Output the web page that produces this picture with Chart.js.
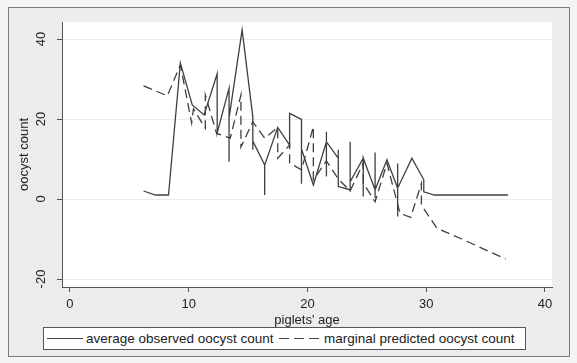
<html><head><meta charset="UTF-8"/>
<title>oocyst count</title>
<script src="https://cdn.jsdelivr.net/npm/chart.js"></script>
<style>
* { margin: 0; padding: 0; box-sizing: border-box; }
body { background: #f4f4f4; width: 577px; height: 363px; overflow: hidden; font-family: 'Liberation Sans', Arial, sans-serif; }
.frame { position: absolute; left: 8px; top: 7px; width: 562px; height: 350px; background: #ececec; border: 1px solid #7a7a7a; }
canvas { position: absolute; left: 0; top: 0; }
.legend { position: absolute; left: 43px; top: 327px; width: 483px; height: 23px; background: #fff; border: 1px solid #555; font-size: 13.5px; color: #222; }
.legend span { position: absolute; top: 3px; white-space: nowrap; }
.legend i { position: absolute; top: 10px; height: 1.3px; }
</style>
</head>
<body>
<div class="frame"></div>
<canvas id="chart" width="577" height="363"></canvas>
<div class="legend">
    <i style="left:3px; width:36px; background:#444;"></i>
    <span style="left:42px;">average observed oocyst count</span>
    <i style="left:235px; width:40px; background:repeating-linear-gradient(90deg, #444 0 10px, transparent 10px 15px);"></i>
    <span style="left:280px;">marginal predicted oocyst count</span>
</div>

<script>
// piglets' age / oocyst count (several farms per age -> vertical jumps)
const observedAge = [6.2, 7.2, 8.3, 9.3, 10.3, 11.3, 12.4, 12.4, 13.4, 13.4, 13.4, 14.5, 15.4, 15.4, 15.4,
    16.4, 16.4, 16.4, 17.5, 18.5, 18.5, 19.5, 19.5, 19.5, 20.5, 21.6, 21.6, 21.6, 21.6, 22.6, 22.6, 22.6,
    23.6, 23.6, 23.6, 23.6, 24.7, 24.7, 24.7, 25.7, 25.7, 25.7, 25.7, 26.7, 27.6, 27.6, 27.6, 27.6,
    28.8, 29.8, 29.8, 30.7, 36.9];
const observedCount = [2, 1, 1, 34, 23.5, 21, 31.3, 16.5, 27.7, 9.3, 20.2, 42.3, 20.6, 12.3, 14.5,
    8.5, 1, 8.5, 17.9, 13.5, 21.4, 19.9, 3.8, 12.5, 3.5, 14.3, 16.8, 5.6, 14.3, 10.2, 12.3, 3.1,
    2.3, 14.3, 1.8, 4.3, 10.2, 0.6, 10.2, 2.3, 11.6, 0.2, 2.3, 9.8, 2.7, 8.9, -4.4, 2.7,
    10.2, 4.8, 1.8, 1, 1];

const predictedAge = [6.2, 8.2, 9.3, 10.25, 10.4, 11.4, 11.4, 12.35, 13.5, 14.4, 14.4, 15.4, 16.4, 17.5, 17.5,
    18.5, 18.5, 19.5, 20.5, 20.5, 21.6, 22.6, 23.6, 24.7, 24.7, 25.7, 26.7, 27.8, 28.7, 29.6, 29.6, 30.9, 33, 36.7];
const predictedCount = [28.3, 25.8, 33.5, 19, 22.5, 17.7, 26, 16.4, 15.2, 26, 13, 19.3, 15.2, 17.9, 10.2,
    13.5, 9, 7.3, 18.1, 4.8, 9.5, 5, 2, 9, 4, -0.7, 8.9, -3.6, -4.6, 3.9, -1.5, -7.3, -10, -15];

const xTicks = [0, 10, 20, 30, 40];
const yTicks = [-20, 0, 20, 40];

const toPoints = (xs, ys) => xs.map((x, i) => ({ x: x, y: ys[i] }));

const plotBackground = {
    id: 'plotBackground',
    beforeDraw(chart) {
        const { ctx, chartArea: a } = chart;
        ctx.save();
        ctx.fillStyle = '#ffffff';
        ctx.fillRect(a.left, a.top, a.right - a.left, a.bottom - a.top);
        ctx.restore();
    }
};

// y tick labels turned on their side, as Stata draws them
const sideLabels = {
    id: 'sideLabels',
    afterDraw(chart) {
        const { ctx, scales } = chart;
        const y = scales.y;
        ctx.save();
        ctx.fillStyle = '#222';
        ctx.font = "13px 'Liberation Sans', Arial, sans-serif";
        ctx.textAlign = 'center';
        ctx.textBaseline = 'middle';
        yTicks.forEach(v => {
            ctx.save();
            ctx.translate(y.right - 21, y.getPixelForValue(v));
            ctx.rotate(-Math.PI / 2);
            ctx.fillText(String(v), 0, 0);
            ctx.restore();
        });
        ctx.restore();
    }
};

Chart.defaults.font.family = "'Liberation Sans', Arial, sans-serif";
Chart.defaults.font.size = 13;
Chart.defaults.color = '#222';

new Chart(document.getElementById('chart'), {
    type: 'scatter',
    data: {
        datasets: [{
            label: 'average observed oocyst count',
            data: toPoints(observedAge, observedCount),
            showLine: true,
            borderColor: '#3f3f3f',
            borderWidth: 1.3,
            pointRadius: 0,
            tension: 0
        }, {
            label: 'marginal predicted oocyst count',
            data: toPoints(predictedAge, predictedCount),
            showLine: true,
            borderColor: '#3f3f3f',
            borderWidth: 1.3,
            borderDash: [9, 5],
            pointRadius: 0,
            tension: 0
        }]
    },
    options: {
        responsive: false,
        animation: false,
        layout: { padding: { left: 17, right: 25, top: 22, bottom: 31 } },
        plugins: { legend: { display: false }, tooltip: { enabled: false } },
        scales: {
            x: {
                type: 'linear',
                min: -0.67,
                max: 40.6,
                afterBuildTicks: axis => { axis.ticks = xTicks.map(v => ({ value: v })); },
                afterFit: axis => { axis.height = 45; },
                grid: { drawOnChartArea: false, tickLength: 5, tickColor: '#555' },
                border: { color: '#555' },
                ticks: { padding: 5, maxRotation: 0 },
                title: { display: true, text: "piglets' age", padding: { top: 1 } }
            },
            y: {
                min: -22,
                max: 44.25,
                afterBuildTicks: axis => { axis.ticks = yTicks.map(v => ({ value: v })); },
                afterFit: axis => { axis.width = 45; },
                grid: { color: '#ebebeb', tickLength: 5, tickColor: '#555' },
                border: { color: '#555' },
                ticks: { display: false },
                title: { display: true, text: 'oocyst count', padding: { top: 0, bottom: 0 } }
            }
        }
    },
    plugins: [plotBackground, sideLabels]
});
</script>
</body></html>
